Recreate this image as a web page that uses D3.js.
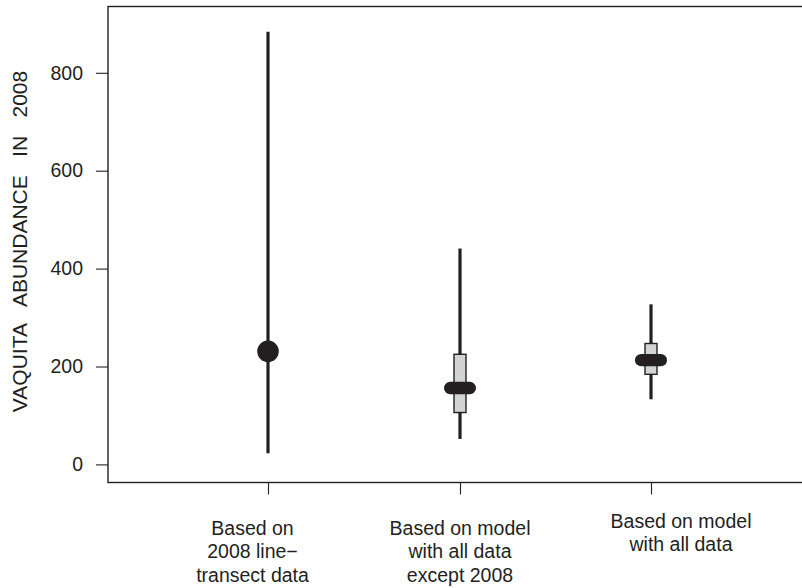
<!DOCTYPE html>
<html>
<head>
<meta charset="utf-8">
<script src="https://cdn.jsdelivr.net/npm/d3@7"></script>
<style>
html,body{margin:0;padding:0;background:#fff;}
svg{display:block;font-family:"Liberation Sans",Arial,sans-serif;}
</style>
</head>
<body>
<svg id="chart" width="802" height="588"></svg>
<script>
// ---- data ----
const categories = ["transect", "modelExcept2008", "modelAll"];
const categoryLabels = [
  ["Based on", "2008 line\u2212", "transect data"],
  ["Based on model", "with all data", "except 2008"],
  ["Based on model", "with all data"]
];
const estimates = [231, 156, 213];
const lowerCI = [23, 52, 133];
const upperCI = [884, 441, 327];
const boxLower = [null, 106, 184];
const boxUpper = [null, 225, 247];
const yTicks = [0, 200, 400, 600, 800];
const yLabel = "VAQUITA ABUNDANCE IN 2008";

// ---- layout ----
const ink = "#231f20";
const svg = d3.select("#chart");
const mLeft = 108, mTop = 6.5, mBottom = 482.5, mRight = 806;

const y = d3.scaleLinear().domain([0, 800]).range([464.4, 72.8]);
const x = d3.scaleOrdinal().domain(categories).range([268, 460, 651]);
const labelX = d3.scaleOrdinal().domain(categories).range([252.5, 460, 681]);

// frame
svg.append("rect")
  .attr("x", mLeft).attr("y", mTop)
  .attr("width", mRight - mLeft).attr("height", mBottom - mTop)
  .attr("fill", "none").attr("stroke", ink).attr("stroke-width", 1.4);

// y axis
const yAxis = d3.axisLeft(y).tickValues(yTicks).tickSize(12).tickPadding(13);
const gy = svg.append("g").attr("transform", `translate(${mLeft},0)`).call(yAxis);
gy.select(".domain").remove();
gy.selectAll(".tick line").attr("stroke", ink).attr("stroke-width", 1.1);
gy.selectAll(".tick text")
  .attr("fill", ink).attr("font-size", 19.5)
  .attr("font-family", "Liberation Sans, Arial, sans-serif");

// x axis ticks
const xAxis = d3.axisBottom(x).tickSize(12).tickFormat("");
const gx = svg.append("g").attr("transform", `translate(0,${mBottom})`).call(xAxis);
gx.select(".domain").remove();
gx.selectAll(".tick line").attr("stroke", ink).attr("stroke-width", 1.1);

// x labels
const lineGap = 23.8;
categories.forEach((c, i) => {
  const lines = categoryLabels[i];
  const firstBaseline = lines.length === 3 ? 534.5 : 527.5;
  const t = svg.append("text")
    .attr("text-anchor", "middle")
    .attr("font-size", 19.5)
    .attr("fill", ink);
  lines.forEach((l, j) => {
    t.append("tspan").attr("x", labelX(c)).attr("y", firstBaseline + j * lineGap).text(l);
  });
});

// y label
svg.append("text")
  .attr("transform", `translate(26.8,${241.5}) rotate(-90)`)
  .attr("text-anchor", "middle")
  .attr("font-size", 21)
  .attr("word-spacing", 12.5)
  .attr("fill", ink)
  .text(yLabel);

// whiskers
svg.append("g").selectAll("line")
  .data(categories)
  .join("line")
  .attr("x1", c => x(c)).attr("x2", c => x(c))
  .attr("y1", (c, i) => y(lowerCI[i]))
  .attr("y2", (c, i) => y(upperCI[i]))
  .attr("stroke", ink).attr("stroke-width", 3.2);

// boxes
const boxW = 12;
svg.append("g").selectAll("rect")
  .data(categories.map((c, i) => ({c, lo: boxLower[i], hi: boxUpper[i]})).filter(d => d.lo !== null))
  .join("rect")
  .attr("x", d => x(d.c) - boxW / 2)
  .attr("y", d => y(d.hi))
  .attr("width", boxW)
  .attr("height", d => y(d.lo) - y(d.hi))
  .attr("fill", "#d1d3d4").attr("stroke", ink).attr("stroke-width", 1.4);

// point estimates
categories.forEach((c, i) => {
  if (boxLower[i] === null) {
    svg.append("circle")
      .attr("cx", x(c)).attr("cy", y(estimates[i])).attr("r", 10.8)
      .attr("fill", ink);
  } else {
    svg.append("rect")
      .attr("x", x(c) - 16).attr("y", y(estimates[i]) - 6.2)
      .attr("width", 32).attr("height", 12.4)
      .attr("rx", 6.2).attr("ry", 6.2)
      .attr("fill", ink);
  }
});
</script>
</body>
</html>
